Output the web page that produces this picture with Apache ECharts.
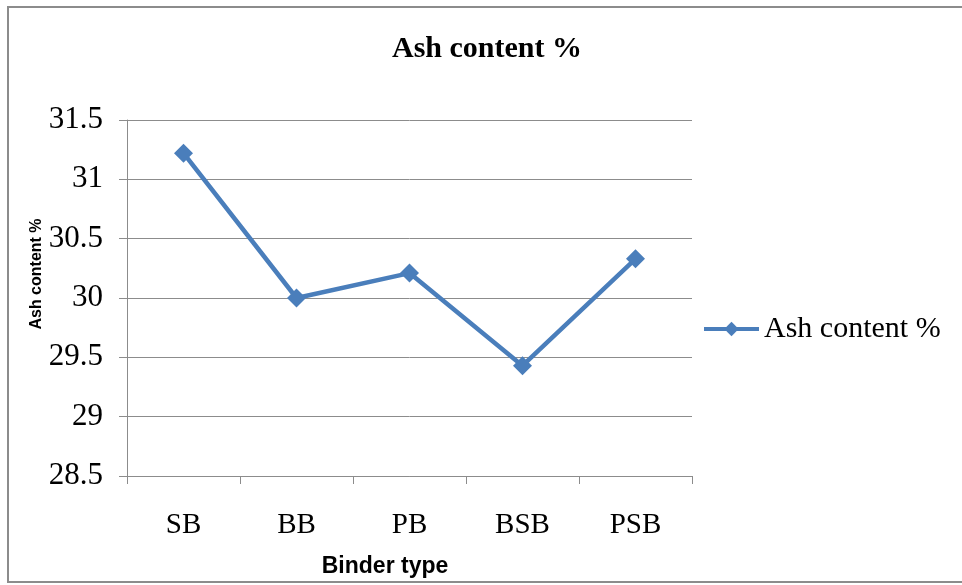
<!DOCTYPE html>
<html>
<head>
<meta charset="utf-8">
<script src="https://cdn.jsdelivr.net/npm/echarts@6/dist/echarts.min.js"></script>
<style>html,body{margin:0;padding:0;background:#fff}#c{width:962px;height:585px}</style>
</head>
<body>
<div id="c"></div>
<script>
const categories = ['SB', 'BB', 'PB', 'BSB', 'PSB'];
const ashContent = [31.22, 30.0, 30.21, 29.43, 30.33];
const seriesName = 'Ash content %';
const chartTitle = 'Ash content %';
const xAxisName = 'Binder type';
const yAxisName = 'Ash content %';

const chart = echarts.init(document.getElementById('c'));
chart.setOption({
  backgroundColor: '#fff',
  animation: false,
  graphic: [
    { type: 'rect', shape: { x: 8, y: 7, width: 970, height: 575 }, style: { fill: 'none', stroke: '#8c8c8c', lineWidth: 2 }, z: -1 },
    { type: 'text', x: 487, y: 49, style: { text: chartTitle, font: 'bold 30px "Liberation Serif", "Times New Roman", serif', fill: '#000', align: 'center', verticalAlign: 'middle' } },
    { type: 'text', x: 385, y: 567, style: { text: xAxisName, font: 'bold 23px "Liberation Sans", Arial, sans-serif', fill: '#000', align: 'center', verticalAlign: 'middle' } },
    { type: 'text', x: 37, y: 274, rotation: Math.PI / 2, style: { text: yAxisName, font: 'bold 16px "Liberation Sans", Arial, sans-serif', fill: '#000', align: 'center', verticalAlign: 'middle' } }
  ],
  legend: {
    data: [seriesName],
    left: 697, top: 309,
    itemWidth: 55, itemHeight: 18,
    itemGap: 4,
    lineStyle: { width: 4 },
    textStyle: { fontFamily: '"Liberation Serif", "Times New Roman", serif', fontSize: 30, color: '#000' }
  },
  grid: { left: 127, right: 270, top: 120, bottom: 109, containLabel: false },
  xAxis: {
    type: 'category',
    data: categories,
    boundaryGap: true,
    axisLine: { lineStyle: { color: '#8c8c8c', width: 1 } },
    axisTick: { show: true, length: 8, inside: false, lineStyle: { color: '#8c8c8c' } },
    axisLabel: { margin: 35, color: '#000', fontFamily: '"Liberation Serif", "Times New Roman", serif', fontSize: 29 },
    splitLine: { show: false }
  },
  yAxis: {
    type: 'value',
    min: 28.5, max: 31.5, interval: 0.5,
    axisLine: { show: true, lineStyle: { color: '#8c8c8c', width: 1 } },
    axisTick: { show: true, length: 8, lineStyle: { color: '#8c8c8c' } },
    axisLabel: { margin: 24, color: '#000', fontFamily: '"Liberation Serif", "Times New Roman", serif', fontSize: 31 },
    splitLine: { show: true, lineStyle: { color: '#8c8c8c', width: 1 } }
  },
  series: [{
    name: seriesName,
    type: 'line',
    data: ashContent,
    symbol: 'diamond',
    symbolSize: 19,
    lineStyle: { color: '#4a7ebb', width: 4.5 },
    itemStyle: { color: '#4a7ebb' }
  }]
});
</script>
</body>
</html>
